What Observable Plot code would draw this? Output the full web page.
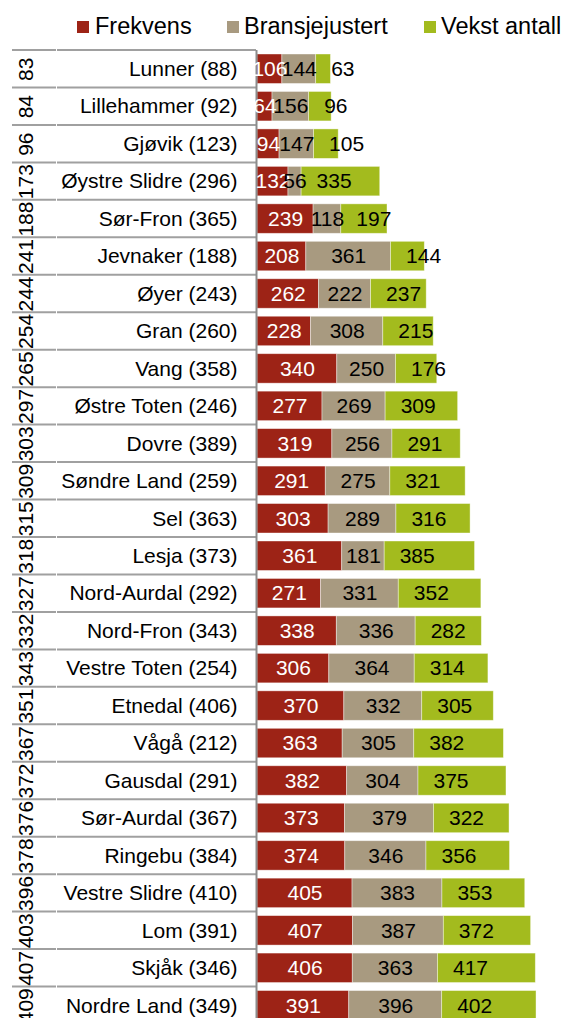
<!DOCTYPE html>
<html><head><meta charset="utf-8">
<script src="https://cdn.jsdelivr.net/npm/d3@7"></script>
<script src="https://cdn.jsdelivr.net/npm/@observablehq/plot@0.6"></script>
<style>
html,body{margin:0;padding:0;background:#fff;overflow:hidden;}
body{width:563px;height:1018px;font-family:"Liberation Sans",Arial,sans-serif;}
#legend{position:relative;height:37px;}
.sw{position:absolute;top:21px;width:12px;height:12px;}
.lt{position:absolute;top:15px;font-size:23.5px;line-height:1;color:#000;white-space:nowrap;}
#chart svg{display:block;}
</style></head><body>
<div id="legend"></div><div id="chart"></div>
<script>
const names = ["Lunner","Lillehammer","Gjøvik","Øystre Slidre","Sør-Fron","Jevnaker","Øyer","Gran","Vang","Østre Toten","Dovre","Søndre Land","Sel","Lesja","Nord-Aurdal","Nord-Fron","Vestre Toten","Etnedal","Vågå","Gausdal","Sør-Aurdal","Ringebu","Vestre Slidre","Lom","Skjåk","Nordre Land"];
const parens = [88,92,123,296,365,188,243,260,358,246,389,259,363,373,292,343,254,406,212,291,367,384,410,391,346,349];
const ranks = [83,84,96,173,188,241,244,254,265,297,303,309,315,318,327,332,343,351,367,372,376,378,396,403,407,409];
const frekvens = [106,64,94,132,239,208,262,228,340,277,319,291,303,361,271,338,306,370,363,382,373,374,405,407,406,391];
const bransje = [144,156,147,56,118,361,222,308,250,269,256,275,289,181,331,336,364,332,305,304,379,346,383,387,363,396];
const vekst = [63,96,105,335,197,144,237,215,176,309,291,321,316,385,352,282,314,305,382,375,322,356,353,372,417,402];
const seriesNames = ["Frekvens","Bransjejustert","Vekst antall"];
const seriesColors = ["#9d2316","#a89a80","#a3bb1e"];

// legend
const legendPos = [[77,95],[227,244],[424,441]];
const leg = document.getElementById("legend");
seriesNames.forEach((s,k)=>{
  const sw = document.createElement("div"); sw.className="sw"; sw.style.left=legendPos[k][0]+"px"; sw.style.background=seriesColors[k]; leg.appendChild(sw);
  const t = document.createElement("div"); t.className="lt"; t.style.left=legendPos[k][1]+"px"; t.textContent=s; leg.appendChild(t);
});

const labelOf = {};
names.forEach((n,i)=>labelOf[n] = `${n} (${parens[i]})`);
const rows = names.map((n,i)=>({name:n, rank:ranks[i]}));
const long = [];
names.forEach((n,i)=>{
  [frekvens,bransje,vekst].forEach((arr,k)=>long.push({name:n, series:seriesNames[k], value:arr[i]}));
});

function tableLines(index, scales) {
  const y = scales.y;
  const bw = y.bandwidth();
  const g = d3.create("svg:g").attr("stroke","#a0a0a0").attr("stroke-width",2);
  const ys = names.map(n=>y(n));
  ys.push(y(names[names.length-1]) + bw);
  for (const yy of ys) {
    g.append("line").attr("x1",12).attr("x2",56).attr("y1",yy).attr("y2",yy);
    g.append("line").attr("x1",57).attr("x2",256).attr("y1",yy).attr("y2",yy);
  }
  return g.node();
}

const chart = Plot.plot({
  width: 563, height: 987,
  marginTop: 13, marginBottom: 0, marginLeft: 257, marginRight: 24.4,
  style: {fontFamily: "'Liberation Sans', Arial, sans-serif", fontSize: "21px", color: "#000", background: "#fff", overflow: "visible"},
  x: {domain: [0, 1200], axis: null},
  y: {domain: names, padding: 0, round: false},
  color: {domain: seriesNames, range: seriesColors},
  marks: [
    tableLines,
    Plot.barX(long, Plot.stackX({y: "name", x: "value", fill: "series", z: "series", insetTop: 4, insetBottom: 4, stroke: "#fff", strokeWidth: 0.8, strokeOpacity: 0.5})),
    Plot.ruleX([0], {stroke: "#8c8c8c", strokeWidth: 2, dx: -1}),
    Plot.axisY({tickSize: 0, tickPadding: 20, tickFormat: d => labelOf[d], label: null}),
    Plot.text(rows, {y: "name", text: "rank", frameAnchor: "left", dx: -231.5, rotate: -90, textAnchor: "middle", lineAnchor: "middle"}),
    Plot.text(long, Plot.stackX({y: "name", x: "value", z: "series", text: d => d.series === "Frekvens" ? String(d.value) : "", fill: "white"})),
    Plot.text(long, Plot.stackX({y: "name", x: "value", z: "series", text: d => d.series === "Bransjejustert" ? String(d.value) : "", fill: "black"})),
    Plot.text(long, Plot.stackX1({y: "name", x: "value", z: "series", text: d => d.series === "Vekst antall" ? String(d.value) : "", fill: "black", textAnchor: "start", dx: 15}))
  ]
});
document.getElementById("chart").appendChild(chart);
</script>
</body></html>
